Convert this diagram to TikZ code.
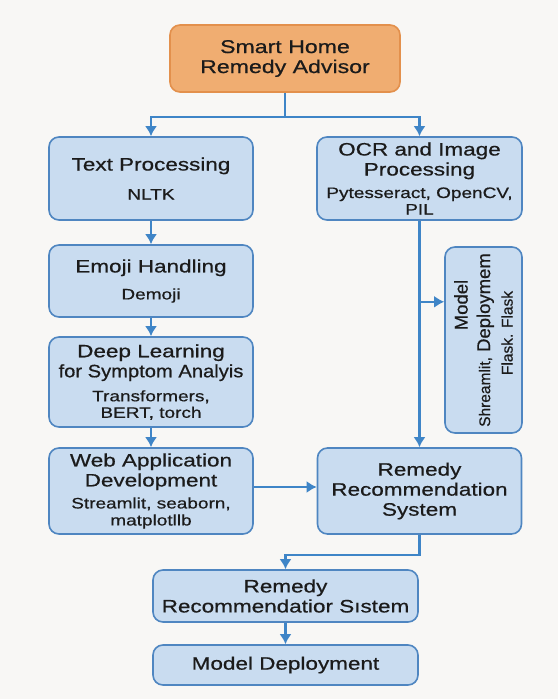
\documentclass[tikz,border=0pt]{standalone}
\usepackage{fontspec}
\setmainfont{Liberation Sans}[FakeStretch=1.25, FakeBold=0.6]
\newfontfamily\narrowfont{Liberation Sans}[FakeStretch=1.12, FakeBold=0.6]
\newfontfamily\plainfont{Liberation Sans}[FakeBold=0.6]
\usepackage{xcolor}
\usepackage{tikz}
\usetikzlibrary{shapes,arrows.meta,positioning}
\definecolor{bg}{HTML}{F8F7F5}
\definecolor{boxfill}{HTML}{C9DCF0}
\definecolor{boxline}{HTML}{4F86C1}
\definecolor{wire}{HTML}{3F85C7}
\definecolor{headfill}{HTML}{F0AD71}
\definecolor{headline}{HTML}{E3904C}
\definecolor{ink}{HTML}{1B1B1B}
\newcommand{\subtext}[1]{{\fontsize{15.2}{16}\selectfont #1}}
\newcommand{\smalltext}[1]{{\fontsize{15.5}{17}\selectfont #1}}
\tikzstyle{header} = [rectangle, draw=headline, fill=headfill, line width=1.6pt, rounded corners=10pt, text=ink, align=center, minimum width=230pt, minimum height=67pt, inner sep=0pt, font=\fontsize{18.5}{20}\selectfont]
\tikzstyle{process} = [rectangle, draw=boxline, fill=boxfill, line width=1.6pt, rounded corners=10pt, text=ink, align=center, minimum width=204pt, inner sep=0pt, font=\fontsize{18}{20}\selectfont]
\tikzstyle{line} = [draw=wire, line width=2.3pt, -{Latex[length=10pt,width=12pt]}]

\begin{document}
\begin{tikzpicture}[node distance=120pt, auto]
    \fill [bg] (-285pt,58.5pt) rectangle (273pt,-640.5pt);
    \node [header] (advisor) {Smart Home\\Remedy Advisor};
    \node [process, minimum height=83pt, below of=advisor, xshift=-134pt] (textproc) {Text Processing\\[9pt]\subtext{NLTK}};
    \node [process, minimum height=83pt, minimum width=205pt, below of=advisor, xshift=134.5pt] (ocr) {OCR and Image\\Processing\\[2.5pt]\subtext{Pytesseract, OpenCV,}\\[-3.5pt]\subtext{PIL}};
    \node [process, minimum height=72pt, node distance=102.5pt, below of=textproc] (emoji) {Emoji Handling\\[7pt]\subtext{Demoji}};
    \node [process, minimum height=90pt, node distance=101pt, below of=emoji] (deep) {Deep Learning\\{\narrowfont for Symptom Analyis}\\[4pt]\subtext{Transformers,}\\[-3.5pt]\subtext{BERT, torch}};
    \node [process, minimum height=86pt, node distance=109pt, below of=deep] (webapp) {Web Application\\Development\\[2pt]\subtext{Streamlit, seaborn,}\\[-3pt]\subtext{matplotllb}};
    \node [process, minimum height=86pt, node distance=268.5pt, right of=webapp] (remedy) {Remedy\\Recommendation\\System};
    \node [process, minimum width=186pt, minimum height=77pt, node distance=161.5pt, below of=ocr, xshift=64pt, font=\plainfont\fontsize{18.5}{22.5}\selectfont, rotate=90] (deploy) {\hspace*{70pt}Model\\\smalltext{Shreamlit,} Deploymem\\\hspace*{14pt}\smalltext{Flask. Flask}};
    \node [process, minimum width=265pt, minimum height=52pt, node distance=105pt, below of=webapp, xshift=134.5pt] (remedytwo) {Remedy\\Recommendatior Sıstem};
    \node [process, minimum width=265pt, minimum height=40pt, node distance=69pt, below of=remedytwo] (model) {Model Deployment};

    \path (ocr.south) ++(0,-81pt) coordinate (branch);

    \path [line] (advisor.south) -- ++(0,-24pt) -| (textproc.north);
    \path [line] (advisor.south) -- ++(0,-24pt) -| (ocr.north);
    \path [line] (textproc) -- (emoji);
    \path [line] (emoji) -- (deep);
    \path [line] (deep) -- (webapp);
    \path [line] ([yshift=4pt]webapp.east) -- ([yshift=4pt]remedy.west);
    \path [line] (ocr) -- (remedy);
    \path [line] (branch) -- (branch -| deploy.north);
    \path [line] (remedy.south) -- ++(0,-20pt) -| (remedytwo.north);
    \path [line] (remedytwo) -- (model);
\end{tikzpicture}
\end{document}
